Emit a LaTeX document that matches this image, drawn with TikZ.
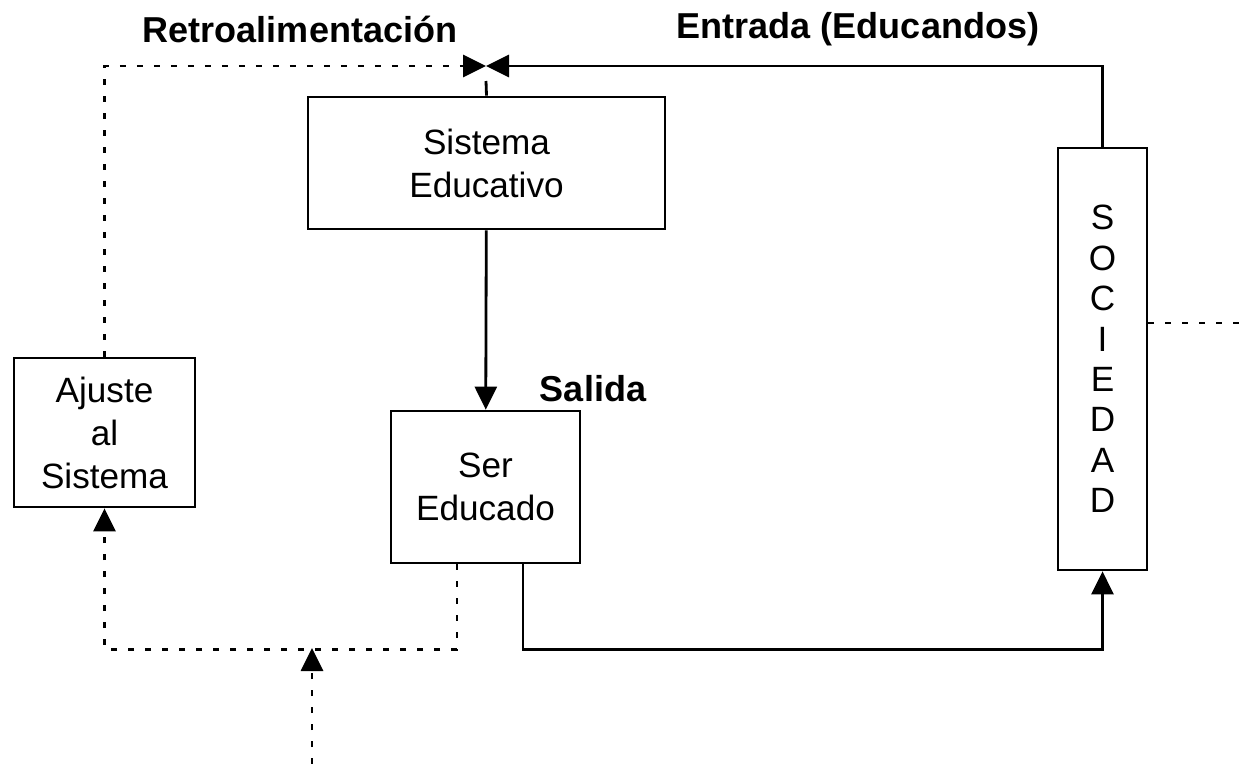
\documentclass[tikz,border=0pt]{standalone}
\usepackage{fontspec}
\setmainfont{Liberation Sans}
\usetikzlibrary{positioning, arrows.meta}
\tikzset{
x=0.02cm, y=-0.02cm, % one unit is one pixel of the sketch, y going down
>={Triangle[length=0.46cm, width=0.44cm]}, % filled arrow heads
box/.style={draw, rectangle, align=center, inner sep=0pt, font=\fontsize{20}{24.5}\selectfont}, % the blocks
feedback/.style={dash pattern=on 0.12cm off 0.22cm}, % dotted lines
title/.style={font=\fontsize{20.5}{24}\selectfont\bfseries}, % bold labels
}

\begin{document}
\begin{tikzpicture}[line width=1.6pt]
    \useasboundingbox (0,0) rectangle (1241,764);

    \node[box, minimum width=7.14cm, minimum height=2.64cm] (sis) at (486.5,163) {Sistema\\Educativo};
    \node[box, minimum width=3.78cm, minimum height=3.04cm] (ser) at (485.5,487) {Ser\\Educado};
    \node[box, minimum width=3.62cm, minimum height=2.98cm] (aju) at (104.5,432.5) {Ajuste\\al\\Sistema};
    \node[box, minimum width=1.78cm, minimum height=8.44cm, font=\fontsize{20}{23}\selectfont] (soc) at (1102.5,359) {S\\O\\C\\I\\E\\D\\A\\D};

    \node[title] (retro) at (300,29) {Retroalimentación};
    \node[title] (entrada) at (858,29) {Entrada (Educandos)};
    \node[title] (salida) at (593,389) {Salida};

    \coordinate (j) at (486,66);
    \coordinate (stub) at (486,81);
    \coordinate (in) at (312,764);
    \coordinate (inend) at (312,648);
    \coordinate (out) at (1241,323);

    \draw[->] (soc.north) |- (j);
    \draw[feedback, ->] (aju.north) |- (j);
    \draw (sis.north) -- (stub);
    \draw[->] (sis) -- (ser);
    \draw[->] ([xshift=0.75cm]ser.south) -- ++(0,85) -| (soc.south);
    \draw[feedback, ->] ([xshift=-0.57cm]ser.south) -- ++(0,85) -| (aju.south);
    \draw[feedback, ->] (in) -- (inend);
    \draw[feedback] (soc.east |- out) -- (out);

\end{tikzpicture}
\end{document}
